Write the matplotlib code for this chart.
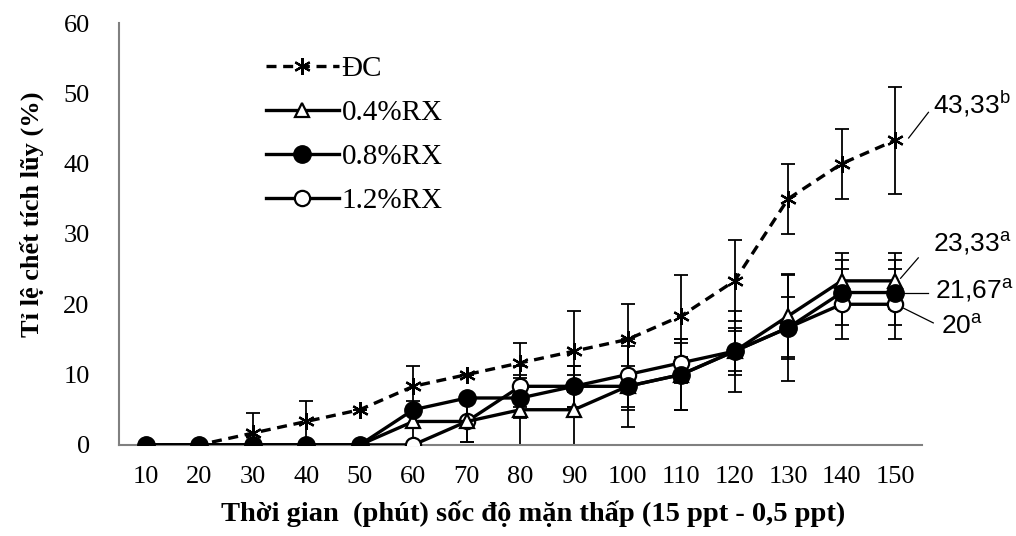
import numpy as np
import matplotlib
matplotlib.use("Agg")
import matplotlib.pyplot as plt

# data
minutes = ["10", "20", "30", "40", "50", "60", "70", "80", "90", "100",
           "110", "120", "130", "140", "150"]
dc = [0, 0, 1.67, 3.33, 5, 8.33, 10, 11.67, 13.33, 15, 18.33, 23.33, 35, 40, 43.33]
dc_err = [0, 0, 2.89, 2.89, 0, 2.89, 0, 2.89, 5.77, 5, 5.77, 5.77, 5, 5, 7.64]
rx04 = [0, 0, 0, 0, 0, 3.33, 3.33, 5, 5, 8.33, 10, 13.33, 18.33, 23.33, 23.33]
rx04_err = [0, 0, 0, 0, 0, 2.89, 2.89, 5, 5, 2.89, 5, 2.89, 5.77, 4.0, 4.0]
rx08 = [0, 0, 0, 0, 0, 5, 6.67, 6.67, 8.33, 8.33, 10, 13.33, 16.67, 21.67, 21.67]
rx08_err = [0, 0, 0, 0, 0, 0, 0, 2.89, 2.89, 5.77, 5, 5.77, 7.64, 4.6, 4.6]
rx12 = [0, 0, 0, 0, 0, 0, 3.33, 8.33, 8.33, 10, 11.67, 13.33, 16.67, 20, 20]
rx12_err = [0, 0, 0, 0, 0, 0, 2.89, 2.89, 2.89, 5, 2.89, 3.33, 4.41, 5, 5]

plt.rcParams['font.family'] = ['Liberation Serif', 'DejaVu Serif']
plt.rcParams['mathtext.fontset'] = 'custom'
plt.rcParams['mathtext.rm'] = 'Liberation Sans'

x = np.arange(len(minutes))

fig = plt.figure(figsize=(10.16, 5.36), dpi=100)
ax = fig.add_axes([0.117, 0.170, 0.7905, 0.787])

eb = dict(fmt='none', ecolor='black', elinewidth=1.3, capsize=5, capthick=1.3)
ax.errorbar(x, dc, yerr=dc_err, **eb)
ax.errorbar(x, rx12, yerr=rx12_err, **eb)
ax.errorbar(x, rx04, yerr=rx04_err, **eb)
ax.errorbar(x, rx08, yerr=rx08_err, **eb)

ax.plot(x, dc, '--', color='black', lw=2.4, marker=(6, 2, 0), ms=12, mew=1.6,
        label='ĐC', dashes=(3, 2))
ax.plot(x, rx12, '-', color='black', lw=2.4, marker='o', ms=11, mfc='white',
        mew=1.6, label='1.2%RX', zorder=3)
ax.plot(x, rx04, '-', color='black', lw=2.4, marker='^', ms=10, mfc='white',
        mew=1.6, label='0.4%RX', zorder=3)
ax.plot(x, rx08, '-', color='black', lw=2.4, marker='o', ms=12.5, mfc='black',
        label='0.8%RX', zorder=4)

ax.set_xlim(-0.5, 14.5)
ax.set_ylim(0, 60)
ax.set_xticks(x)
ax.set_xticklabels(minutes)
ax.set_yticks(range(0, 61, 10))
ax.tick_params(length=0, labelsize=19)
ax.tick_params(axis='x', pad=15)
ax.tick_params(axis='y', pad=21)
for s in ['top', 'right']:
    ax.spines[s].set_visible(False)
for s in ['left', 'bottom']:
    ax.spines[s].set_color('#808080')
    ax.spines[s].set_linewidth(1.5)

ax.set_ylabel('Tỉ lệ chết tích lũy (%)', fontsize=19, fontweight='bold', labelpad=14)
ax.yaxis.label.set_y(0.547)
ax.set_xlabel('Thời gian  (phút) sốc độ mặn thấp (15 ppt - 0,5 ppt)', fontsize=20.5,
              fontweight='bold', labelpad=9)
ax.xaxis.label.set_x(0.516)

h, l = ax.get_legend_handles_labels()
order = [0, 2, 3, 1]
ax.legend([h[i] for i in order], [l[i] for i in order], loc='upper left',
          bbox_to_anchor=(0.15, 0.985), frameon=False, fontsize=21,
          handlelength=2.5, handletextpad=0.1, labelspacing=0.6, numpoints=1)

# end labels with leader lines
notes = [
    (r'43,33$^{\mathrm{b}}$', (14.25, 43.65), (14.62, 47.3), (14.71, 48.6)),
    (r'23,33$^{\mathrm{a}}$', (14.1, 23.7), (14.43, 26.6), (14.70, 28.7)),
    (r'21,67$^{\mathrm{a}}$', (14.15, 21.6), (14.62, 21.6), (14.75, 22.0)),
    (r'20$^{\mathrm{a}}$', (14.14, 19.5), (14.71, 17.35), (14.85, 16.8)),
]
for txt, p0, p1, pt in notes:
    ax.plot([p0[0], p1[0]], [p0[1], p1[1]], color='black', lw=0.9, clip_on=False)
    ax.text(pt[0], pt[1], txt, fontsize=19, family='Liberation Sans',
            ha='left', va='center', clip_on=False)

fig.savefig('out.png', dpi=100)
